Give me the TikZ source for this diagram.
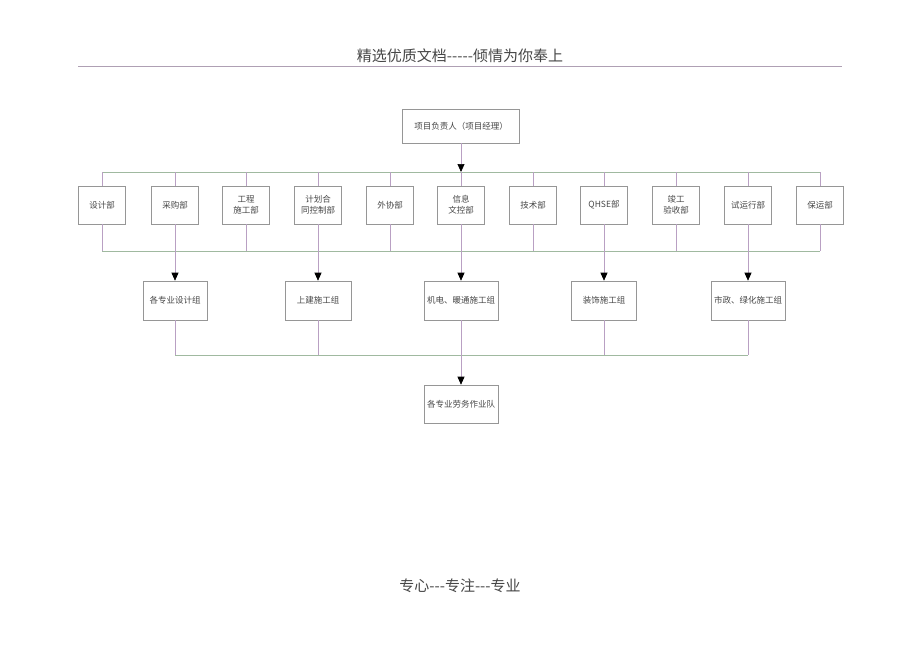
\documentclass[tikz,border=0pt]{standalone}
\usepackage{fontspec}
\setmainfont{Noto Sans CJK SC}
\usetikzlibrary{arrows.meta}
\definecolor{boxgray}{RGB}{150,150,150}
\definecolor{busgreen}{RGB}{160,185,160}
\definecolor{linepurple}{RGB}{185,160,195}
\definecolor{rulec}{RGB}{175,160,180}
\definecolor{txt}{RGB}{70,70,70}
\newcommand{\hy}{\mbox{-}}
\tikzset{
  box/.style={draw=boxgray, line width=0.6pt, inner sep=1pt, align=center,
    text=txt, font=\fontsize{8.5}{11}\selectfont},
  dept/.style={box, minimum width=47pt, minimum height=38pt},
  grp/.style={box, minimum height=39pt},
  bus/.style={draw=busgreen, line width=0.7pt},
  vline/.style={draw=linepurple, line width=0.7pt},
  arr/.style={vline, -{Triangle[width=7pt,length=8pt,fill=black,color=black]}}
}
\begin{document}
\begin{tikzpicture}[x=1pt,y=-1pt]
\useasboundingbox (0,0) rectangle (920,651);
% header and footer
\node[text=txt, font=\fontsize{15}{18}\selectfont] (hdr) at (460,56) {精选优质文档\hy\hy\hy\hy\hy 倾情为你奉上};
\coordinate (rl) at (78,66);
\coordinate (rr) at (842,66);
\draw[draw=rulec, line width=0.7pt] (rl) -- (rr);
\node[text=txt, font=\fontsize{15}{18}\selectfont] (ftr) at (460,586) {专心\hy\hy\hy 专注\hy\hy\hy 专业};
% top box
\node[box, minimum width=117pt, minimum height=34pt] (top) at (461,126) {项目负责人（项目经理）};
\coordinate (tbus) at (461,172);
\coordinate (tbl) at (102,172);
\coordinate (tbr) at (820,172);
\draw[arr] (top.south) -- (tbus);
\draw[bus] (tbl) -- (tbr);
% departments
\foreach \i/\x/\t in {1/102/设计部, 2/175/采购部, 3/246/工程\\施工部, 4/318/计划合\\同控制部, 5/390/外协部, 6/461/信息\\文控部, 7/533/技术部, 8/604/QHSE部, 9/676/竣工\\验收部, 10/748/试运行部, 11/820/保运部}{
  \node[dept] (d\i) at (\x,205) {\t};
  \coordinate (da\i) at (\x,172);
  \coordinate (db\i) at (\x,251);
  \draw[vline] (da\i) -- (d\i.north);
  \draw[vline] (d\i.south) -- (db\i);
}
\coordinate (bbl) at (102,251);
\coordinate (bbr) at (820,251);
\draw[bus] (bbl) -- (bbr);
% groups
\foreach \j/\x/\w/\t in {1/175/64/各专业设计组, 2/318/66/上建施工组, 3/461/74/机电、暖通施工组, 4/604/65/装饰施工组, 5/748/74/市政、绿化施工组}{
  \node[grp, minimum width=\w pt] (g\j) at (\x,300.5) {\t};
  \coordinate (ga\j) at (\x,251);
  \coordinate (gb\j) at (\x,355);
  \draw[arr] (ga\j) -- (g\j.north);
  \draw[vline] (g\j.south) -- (gb\j);
}
\coordinate (cbl) at (175,355);
\coordinate (cbr) at (748,355);
\draw[bus] (cbl) -- (cbr);
% final
\node[grp, minimum width=74pt, minimum height=38pt] (fin) at (461,404) {各专业劳务作业队};
\coordinate (fa) at (461,355);
\draw[arr] (fa) -- (fin.north);
\end{tikzpicture}
\end{document}
